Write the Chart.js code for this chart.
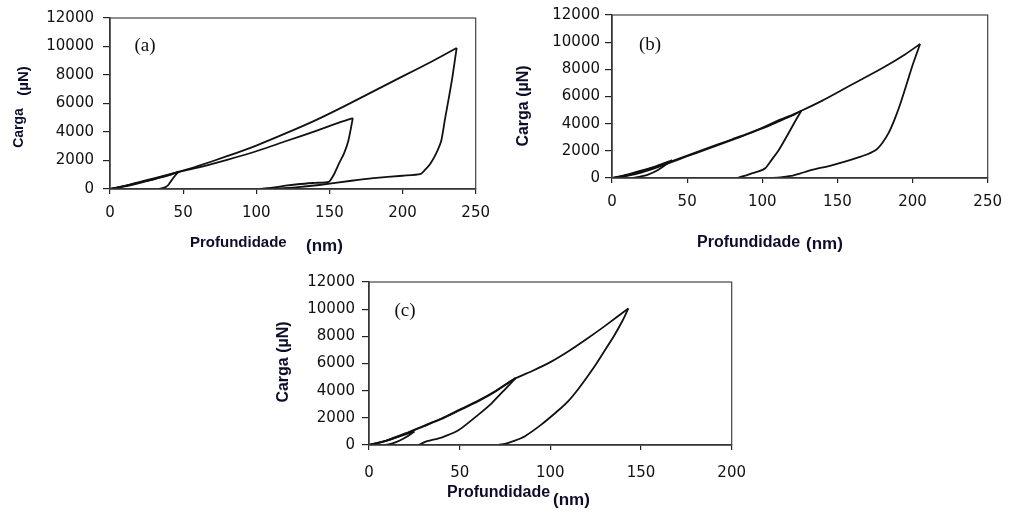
<!DOCTYPE html>
<html>
<head>
<meta charset="utf-8">
<script src="https://cdn.jsdelivr.net/npm/chart.js@4.4.1/dist/chart.umd.min.js"></script>
<style>
  html, body { margin: 0; padding: 0; background: #fff; }
  body { width: 1012px; height: 517px; position: relative; overflow: hidden; }
  canvas { position: absolute; }
</style>
</head>
<body>
<canvas id="chartA" width="500" height="260" style="left:0;top:0"></canvas>
<canvas id="chartB" width="512" height="260" style="left:500px;top:0"></canvas>
<canvas id="chartC" width="500" height="257" style="left:260px;top:260px"></canvas>
<script>
// ---- data (depth in nm, load in µN) ----
// (a)
const aLoadHiX = [0, 10, 20, 30, 47, 60, 80, 100, 120, 140, 160, 180, 200, 220, 237];
const aLoadHiY = [0, 200, 450, 700, 1200, 1600, 2300, 3050, 3900, 4800, 5800, 6850, 7900, 8950, 9900];
const aUnloadHiX = [237, 234, 232, 229, 226.5, 223, 219, 215, 212, 200, 180, 165, 143, 127, 115, 102];
const aUnloadHiY = [9900, 7800, 6600, 4900, 3400, 2500, 1780, 1300, 1040, 930, 760, 580, 280, 110, 40, 0];
const aLoadMidX = [0, 10, 20, 30, 47, 60, 80, 100, 120, 140, 155, 166];
const aLoadMidY = [0, 220, 480, 750, 1200, 1500, 2050, 2650, 3350, 4050, 4600, 4970];
const aUnloadMidX = [166, 163, 160, 156.5, 153, 149.5, 140, 130, 120, 110, 103];
const aUnloadMidY = [4970, 3400, 2500, 1780, 1000, 500, 430, 350, 230, 80, 0];
const aLoadLowX = [0, 10, 20, 30, 40, 47];
const aLoadLowY = [0, 180, 420, 680, 950, 1220];
const aUnloadLowX = [47, 45, 42, 40, 38, 35, 33];
const aUnloadLowY = [1220, 1000, 600, 300, 130, 40, 0];

// (b)
const bLoadHiX = [0, 10, 20, 30, 40, 50, 60, 70, 80, 90, 100, 110, 120, 126, 140, 150, 165, 180, 195, 205];
const bLoadHiY = [0, 200, 500, 850, 1250, 1650, 2050, 2450, 2850, 3250, 3700, 4200, 4650, 4950, 5700, 6300, 7200, 8100, 9100, 9860];
const bUnloadHiX = [205, 200, 196.6, 192, 188, 184, 180, 176, 170, 165, 155, 145, 133, 125, 119, 112, 105];
const bUnloadHiY = [9860, 8300, 7100, 5500, 4300, 3300, 2600, 2100, 1750, 1550, 1200, 900, 590, 330, 150, 40, 0];
const bLoadMidX = [0, 10, 20, 30, 40, 50, 60, 70, 80, 90, 100, 110, 120, 126];
const bLoadMidY = [0, 150, 420, 780, 1180, 1600, 2000, 2400, 2800, 3220, 3650, 4120, 4600, 4950];
const bUnloadMidX = [126, 122, 117, 111, 106, 102, 98, 93, 88, 83];
const bUnloadMidY = [4950, 4200, 3200, 2060, 1300, 720, 500, 340, 150, 0];
const bLoadLowX = [0, 10, 20, 30, 40];
const bLoadLowY = [0, 250, 560, 900, 1300];
const bUnloadLowX = [40, 36, 30, 24, 18, 14];
const bUnloadLowY = [1300, 1000, 550, 250, 80, 0];

// (c)
const cLoadHiX = [0, 10, 20, 30, 40, 50, 60, 70, 80, 90, 100, 110, 120, 130, 143];
const cLoadHiY = [0, 350, 850, 1400, 1950, 2600, 3250, 4000, 4850, 5450, 6100, 6900, 7800, 8750, 10050];
const cUnloadHiX = [143, 140, 135, 130, 125, 120, 115, 110, 104, 95, 86, 80, 75, 71];
const cUnloadHiY = [10050, 9200, 8000, 6950, 5900, 4950, 4050, 3250, 2500, 1500, 650, 300, 80, 0];
const cLoadMidX = [0, 10, 20, 30, 40, 50, 60, 70, 81];
const cLoadMidY = [0, 330, 820, 1370, 1920, 2560, 3200, 3950, 4950];
const cUnloadMidX = [81, 75, 67.6, 60, 49.5, 40, 31.4, 27.5];
const cUnloadMidY = [4950, 4100, 3070, 2200, 1100, 550, 250, 0];
const cLoadLowX = [0, 8, 16, 25];
const cLoadLowY = [0, 250, 600, 1000];
const cUnloadLowX = [25, 21, 17, 13, 9];
const cUnloadLowY = [1000, 620, 330, 120, 0];

const yTicks = [0, 2000, 4000, 6000, 8000, 10000, 12000];
const xTicksAB = [0, 50, 100, 150, 200, 250];
const xTicksC = [0, 50, 100, 150, 200];

const titleColor = '#0d0d2b';
const bold = size => `bold ${size}px "Liberation Sans", Arial, sans-serif`;
const serif = size => `${size}px "Liberation Serif", "Times New Roman", serif`;

function curve(xs, ys) {
  return {
    data: xs.map((x, i) => ({ x: x, y: ys[i] })),
    showLine: true,
    borderColor: '#111',
    borderWidth: 1.8,
    pointRadius: 0,
    tension: 0.2,
    fill: false
  };
}

// box around the plot area
const framePlugin = {
  id: 'frame',
  afterDraw(chart) {
    const { ctx, chartArea: a } = chart;
    ctx.save();
    ctx.strokeStyle = '#444';
    ctx.lineWidth = 1.2;
    ctx.strokeRect(a.left, a.top, a.right - a.left, a.bottom - a.top);
    ctx.restore();
  }
};

// axis titles and panel letter, placed like the original figure
const textPlugin = {
  id: 'panelText',
  afterDraw(chart, args, opts) {
    const ctx = chart.ctx;
    (opts.items || []).forEach(t => {
      ctx.save();
      ctx.fillStyle = t.color || titleColor;
      ctx.font = t.font;
      ctx.textAlign = t.align || 'center';
      ctx.textBaseline = 'middle';
      ctx.translate(t.x, t.y);
      if (t.rot) ctx.rotate(-Math.PI / 2);
      ctx.fillText(t.text, 0, 0);
      ctx.restore();
    });
  }
};

function makeChart(id, cfg) {
  const tickFont = { family: 'DejaVu Sans', size: 15 };
  new Chart(document.getElementById(id), {
    type: 'scatter',
    data: { datasets: cfg.curves },
    options: {
      responsive: false,
      animation: false,
      layout: { padding: cfg.padding },
      plugins: {
        legend: { display: false },
        tooltip: { enabled: false },
        panelText: { items: cfg.texts }
      },
      scales: {
        x: {
          type: 'linear',
          min: 0,
          max: cfg.xTicks[cfg.xTicks.length - 1],
          afterBuildTicks: s => { s.ticks = cfg.xTicks.map(v => ({ value: v })); },
          afterFit: s => { s.height = cfg.xHeight; },
          ticks: { color: '#111', font: tickFont, padding: cfg.xPad, maxRotation: 0, callback: v => String(v) },
          grid: { drawOnChartArea: false, drawTicks: true, tickLength: 5, color: '#222', lineWidth: 1.2 },
          border: { color: '#222', width: 1.5 }
        },
        y: {
          type: 'linear',
          min: 0,
          max: 12000,
          afterBuildTicks: s => { s.ticks = yTicks.map(v => ({ value: v })); },
          afterFit: s => { s.width = cfg.yWidth; },
          ticks: { color: '#111', font: tickFont, padding: cfg.yPad, callback: v => String(v) },
          grid: { drawOnChartArea: false, drawTicks: true, tickLength: 7, color: '#222', lineWidth: 1.2 },
          border: { color: '#222', width: 1.5 }
        }
      }
    },
    plugins: [framePlugin, textPlugin]
  });
}

makeChart('chartA', {
  curves: [
    curve(aLoadHiX, aLoadHiY), curve(aUnloadHiX, aUnloadHiY),
    curve(aLoadMidX, aLoadMidY), curve(aUnloadMidX, aUnloadMidY),
    curve(aLoadLowX, aLoadLowY), curve(aUnloadLowX, aUnloadLowY)
  ],
  xTicks: xTicksAB,
  padding: { left: 0, top: 16, right: 17, bottom: 0 },
  yWidth: 110, xHeight: 71, xPad: 10, yPad: 9,
  texts: [
    { text: '(a)', x: 145, y: 46, font: serif(19), color: '#111' },
    { text: 'Profundidade', x: 190, y: 243, font: bold(15), align: 'left' },
    { text: '(nm)', x: 306, y: 246, font: bold(17), align: 'left' },
    { text: 'Carga', x: 19, y: 128, font: bold(14), rot: true },
    { text: '(µN)', x: 24, y: 81, font: bold(15), rot: true }
  ]
});

makeChart('chartB', {
  curves: [
    curve(bLoadHiX, bLoadHiY), curve(bUnloadHiX, bUnloadHiY),
    curve(bLoadMidX, bLoadMidY), curve(bUnloadMidX, bUnloadMidY),
    curve(bLoadLowX, bLoadLowY), curve(bUnloadLowX, bUnloadLowY)
  ],
  xTicks: xTicksAB,
  padding: { left: 0, top: 15, right: 21, bottom: 0 },
  yWidth: 112, xHeight: 82, xPad: 10, yPad: 5,
  texts: [
    { text: '(b)', x: 150, y: 45, font: serif(19), color: '#111' },
    { text: 'Profundidade', x: 197, y: 243, font: bold(16), align: 'left' },
    { text: '(nm)', x: 306, y: 244, font: bold(17), align: 'left' },
    { text: 'Carga (µN)', x: 24, y: 106, font: bold(16), rot: true }
  ]
});

makeChart('chartC', {
  curves: [
    curve(cLoadHiX, cLoadHiY), curve(cUnloadHiX, cUnloadHiY),
    curve(cLoadMidX, cLoadMidY), curve(cUnloadMidX, cUnloadMidY),
    curve(cLoadLowX, cLoadLowY), curve(cUnloadLowX, cUnloadLowY)
  ],
  xTicks: xTicksC,
  padding: { left: 0, top: 22, right: 23, bottom: 0 },
  yWidth: 109, xHeight: 72, xPad: 14, yPad: 7,
  texts: [
    { text: '(c)', x: 145, y: 51, font: serif(19), color: '#111' },
    { text: 'Profundidade', x: 187, y: 233, font: bold(16), align: 'left' },
    { text: '(nm)', x: 293, y: 240, font: bold(17), align: 'left' },
    { text: 'Carga (µN)', x: 24, y: 102, font: bold(16), rot: true }
  ]
});
</script>
</body>
</html>
